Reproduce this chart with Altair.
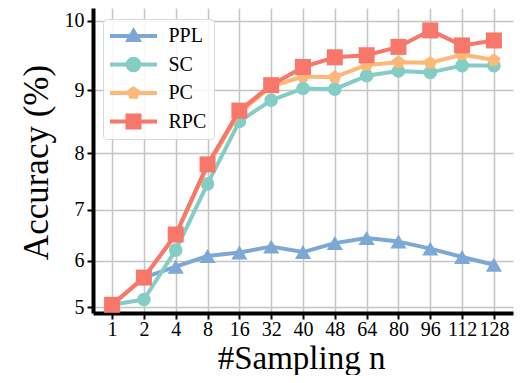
import math
import altair as alt
import pandas as pd

# ---- data ----
samples = ["1", "2", "4", "8", "16", "32", "40", "48", "64", "80", "96", "112", "128"]
series_names = ["PPL", "SC", "PC", "RPC"]
ppl = [5.05, 5.65, 5.88, 6.10, 6.17, 6.29, 6.18, 6.36, 6.46, 6.39, 6.25, 6.08, 5.92]
sc = [5.05, 5.17, 6.22, 7.47, 8.52, 8.85, 9.03, 9.02, 9.22, 9.29, 9.27, 9.37, 9.37]
pc = [5.05, 5.65, 6.52, 7.78, 8.66, 9.06, 9.21, 9.20, 9.38, 9.42, 9.41, 9.53, 9.45]
rpc = [5.05, 5.65, 6.53, 7.81, 8.69, 9.08, 9.35, 9.49, 9.52, 9.64, 9.87, 9.66, 9.73]
y_ticks = [5, 6, 7, 8, 9, 10]

colors = ["#7DA8D5", "#84CDC5", "#FDB878", "#F7776A"]

# ---- styling ----
RATE = 0.10256  # exponential y-axis (function scale)
FONT = "Liberation Serif"

rows = []
for name, vals in zip(series_names, [ppl, sc, pc, rpc]):
    for s, v in zip(samples, vals):
        rows.append({"n": s, "acc": v, "series": name})
df = pd.DataFrame(rows)

t_ticks = [math.exp(RATE * v) for v in y_ticks]
t_lo = math.exp(RATE * 4.862)
t_hi = math.exp(RATE * 10.176)

bar = "M-2.35,-0.2H2.35V0.2H-2.35Z"
leg_paths = {
    "PPL": bar + "M0,-0.9L0.85,0.6L-0.85,0.6Z",
    "SC": bar + "M-0.78,0A0.78,0.78 0 1,1 0.78,0A0.78,0.78 0 1,1 -0.78,0Z",
    "PC": bar + "M0,-0.7L0.666,-0.216L0.411,0.566L-0.411,0.566L-0.666,-0.216Z",
    "RPC": bar + "M-0.8,-0.8H0.8V0.8H-0.8Z",
}
shape_expr = " : ".join(
    f"datum.value === '{k}' ? '{v}'" for k, v in leg_paths.items()
) + " : 'circle'"
fill_expr = " : ".join(
    f"datum.value === '{k}' ? '{c}'" for k, c in zip(series_names, colors)
) + " : 'gray'"

legend = alt.Legend(
    title=None,
    orient="none",
    legendX=10,
    legendY=11,
    labelFont=FONT,
    labelFontSize=20,
    labelColor="black",
    symbolType=alt.ExprRef(expr=shape_expr),
    symbolFillColor=alt.ExprRef(expr=fill_expr),
    symbolStrokeColor="transparent",
    symbolSize=400,
    symbolOffset=13.5,
    symbolOpacity=1,
    labelOffset=25,
    rowPadding=8.5,
    padding=7,
    fillColor="rgba(255,255,255,0.85)",
    strokeColor="#d8d8d8",
    cornerRadius=4,
    symbolStrokeWidth=0,
)

color_enc = alt.Color(
    "series:N",
    scale=alt.Scale(domain=series_names, range=colors),
    legend=legend,
)

x_enc = alt.X(
    "n:O",
    sort=samples,
    scale=alt.Scale(type="point", padding=0.6),
    axis=alt.Axis(
        title="#Sampling n",
        labelAngle=0,
        labelFont=FONT,
        labelFontSize=20,
        labelColor="black",
        labelBaseline="alphabetic",
        labelPadding=16,
        titleFont=FONT,
        titleFontSize=33,
        titleFontWeight="normal",
        titleColor="black",
        titleBaseline="alphabetic",
        titleX=208,
        titleY=55,
        domainColor="black",
        domainWidth=4,
        tickColor="black",
        tickWidth=2,
        tickSize=6,
        grid=True,
        gridColor="#c4c4c4",
        gridWidth=1.5,
    ),
)

y_enc = alt.Y(
    "t:Q",
    scale=alt.Scale(domain=[t_lo, t_hi], nice=False, zero=False),
    axis=alt.Axis(
        values=t_ticks,
        labelExpr=f"format(log(datum.value)/{RATE}, '.0f')",
        title="Accuracy (%)",
        labelFont=FONT,
        labelFontSize=20,
        labelColor="black",
        labelPadding=3,
        titleFont=FONT,
        titleFontSize=35,
        titleFontWeight="normal",
        titleColor="black",
        titleAngle=270,
        titleBaseline="alphabetic",
        titleAlign="center",
        titleX=-46,
        titleY=154,
        domainColor="black",
        domainWidth=4,
        tickColor="black",
        tickWidth=2,
        tickSize=6,
        grid=True,
        gridColor="#c4c4c4",
        gridWidth=1.5,
    ),
)

pent = "M0,-1L0.951,-0.309L0.588,0.809L-0.588,0.809L-0.951,-0.309Z"
marker_shapes = ["triangle-up", "circle", pent, "square"]
marker_sizes = [260, 185, 190, 256]

base = alt.Chart(df).transform_calculate(t=f"exp({RATE} * datum.acc)")

layers = []
for name, shp, sz in zip(series_names, marker_shapes, marker_sizes):
    sub = base.transform_filter(alt.datum.series == name)
    layers.append(
        sub.mark_line(strokeWidth=4, strokeJoin="round").encode(
            x=x_enc, y=y_enc, color=color_enc
        )
    )
    layers.append(
        sub.mark_point(filled=True, shape=shp, size=sz, opacity=1, strokeWidth=0).encode(
            x=x_enc, y=y_enc, color=color_enc
        )
    )

chart = (
    alt.layer(*layers)
    .properties(
        width=420,
        height=305,
        autosize=alt.AutoSizeParams(type="none"),
        padding={"left": 85, "top": 0, "right": 5, "bottom": 62},
        background="white",
    )
    .configure_view(stroke=None)
)

chart.save("out.html", embed_options={"renderer": "svg", "actions": False})
